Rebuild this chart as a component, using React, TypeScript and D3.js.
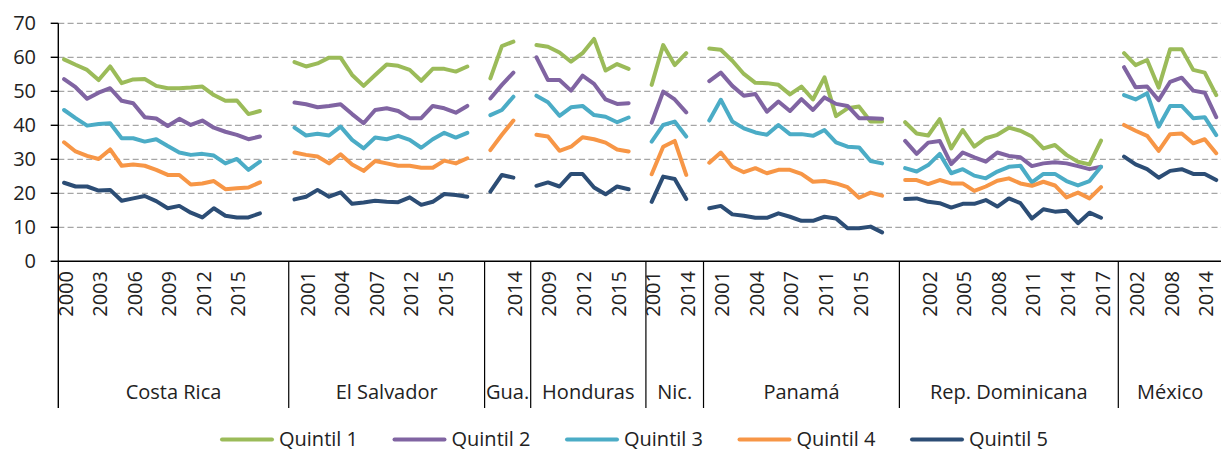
import React from "react";
import * as d3 from "d3";

const countries = ["Costa Rica", "El Salvador", "Gua.", "Honduras", "Nic.", "Panamá", "Rep. Dominicana", "México"];

const countryYears: string[][] = [
  ["2000","2001","2002","2003","2004","2005","2006","2007","2008","2009","2010","2011","2012","2013","2014","2015","2016","2017","",""],
  ["2000","2001","2002","2003","2004","2005","2006","2007","2009","2010","2012","2013","2014","2015","2016","2017",""],
  ["2000","2006","2014",""],
  ["2008","2009","2010","2011","2012","2013","2014","2015","2016",""],
  ["2001","2005","2009","2014",""],
  ["2000","2001","2002","2003","2004","2005","2006","2007","2008","2009","2011","2012","2013","2015","2016","2017",""],
  ["2000","2001","2002","2003","2004","2005","2006","2007","2008","2009","2010","2011","2012","2013","2014","2015","2016","2017",""],
  ["2000","2002","2004","2006","2008","2010","2012","2014","2016"],
];

const seriesNames = ["Quintil 1", "Quintil 2", "Quintil 3", "Quintil 4", "Quintil 5"];
const seriesColors = ["#9BBB59", "#8064A2", "#4BACC6", "#F79646", "#2C4D75"];

const N = null;

const quintil1 = [
  59.4, 57.8, 56.3, 53.3, 57.3, 52.4, 53.5, 53.6, 51.6, 50.9, 50.9, 51.1, 51.4, 48.9, 47.2, 47.3, 43.3, 44.2, N, N,
  58.6, 57.3, 58.2, 59.9, 59.9, 54.8, 51.6, 54.8, 57.9, 57.5, 56.3, 53.1, 56.6, 56.6, 55.8, 57.3, N,
  53.8, 63.3, 64.6, N,
  63.6, 63.1, 61.4, 58.7, 61.2, 65.4, 56.1, 58.0, 56.6, N,
  51.9, 63.6, 57.7, 61.2, N,
  62.6, 62.2, 59.0, 55.1, 52.5, 52.4, 51.9, 49.1, 51.4, 47.6, 54.1, 42.7, 45.0, 45.5, 41.1, 41.1, N,
  40.9, 37.6, 37.0, 41.8, 33.2, 38.6, 33.7, 36.2, 37.2, 39.3, 38.4, 36.7, 33.2, 34.2, 31.3, 29.3, 28.5, 35.5, N,
  61.2, 57.7, 59.2, 51.1, 62.4, 62.4, 56.3, 55.5, 48.9,
];

const quintil2 = [
  53.6, 51.2, 47.8, 49.6, 50.9, 47.2, 46.5, 42.4, 42.0, 39.8, 41.9, 40.1, 41.4, 39.3, 38.1, 37.2, 35.9, 36.7, N, N,
  46.7, 46.2, 45.3, 45.7, 46.2, 43.3, 40.6, 44.5, 45.0, 44.2, 42.1, 42.1, 45.7, 45.0, 43.7, 45.7, N,
  47.9, 51.9, 55.5, N,
  60.0, 53.3, 53.3, 50.2, 54.6, 52.2, 47.6, 46.3, 46.5, N,
  40.8, 49.9, 47.6, 43.8, N,
  53.0, 55.5, 51.6, 48.7, 49.2, 44.0, 47.0, 44.2, 47.7, 44.5, 48.2, 46.3, 45.7, 42.1, 42.1, 41.9, N,
  35.4, 31.6, 34.9, 35.4, 28.6, 32.0, 30.6, 29.3, 32.0, 31.0, 30.6, 28.0, 28.8, 29.1, 28.8, 28.0, 27.1, 27.8, N,
  57.1, 51.2, 51.4, 47.4, 52.8, 54.0, 50.2, 49.6, 42.4,
];

const quintil3 = [
  44.5, 42.1, 39.9, 40.4, 40.6, 36.2, 36.2, 35.2, 35.9, 33.9, 32.0, 31.3, 31.6, 31.1, 28.8, 30.1, 26.9, 29.3, N, N,
  39.3, 37.0, 37.5, 37.0, 39.6, 35.7, 33.2, 36.4, 35.9, 36.9, 35.7, 33.4, 35.9, 37.8, 36.4, 37.8, N,
  43.0, 44.5, 48.4, N,
  48.7, 46.8, 42.8, 45.3, 45.7, 43.0, 42.5, 40.9, 42.3, N,
  35.2, 40.1, 41.1, 36.7, N,
  41.4, 47.5, 41.1, 39.1, 37.9, 37.2, 40.1, 37.4, 37.4, 36.9, 38.6, 35.0, 33.7, 33.5, 29.5, 28.8, N,
  27.4, 26.4, 28.3, 31.6, 25.9, 27.1, 25.2, 24.4, 26.4, 27.8, 28.1, 23.2, 25.7, 25.7, 23.6, 22.3, 23.6, 27.8, N,
  48.9, 47.6, 49.4, 39.6, 45.7, 45.7, 42.1, 42.4, 37.1,
];

const quintil4 = [
  35.0, 32.3, 31.0, 30.1, 32.9, 28.1, 28.5, 28.1, 26.9, 25.4, 25.4, 22.6, 22.9, 23.6, 21.2, 21.5, 21.7, 23.2, N, N,
  32.0, 31.3, 30.8, 28.8, 31.5, 28.5, 26.6, 29.5, 28.8, 28.1, 28.1, 27.5, 27.5, 29.6, 28.8, 30.3, N,
  32.7, 37.2, 41.4, N,
  37.2, 36.7, 32.5, 33.7, 36.5, 35.9, 34.9, 32.9, 32.3, N,
  25.6, 33.7, 35.4, 25.4, N,
  29.0, 32.0, 27.8, 26.2, 27.4, 25.9, 26.9, 26.9, 25.7, 23.4, 23.6, 22.9, 21.8, 18.7, 20.2, 19.3, N,
  23.9, 23.9, 22.7, 23.9, 22.9, 22.9, 20.7, 22.0, 23.7, 24.4, 22.9, 22.2, 23.4, 22.3, 18.8, 20.2, 18.5, 21.8, N,
  40.1, 38.4, 36.9, 32.5, 37.4, 37.6, 34.7, 35.9, 31.8,
];

const quintil5 = [
  23.1, 22.0, 22.0, 20.8, 21.0, 17.8, 18.5, 19.2, 17.7, 15.6, 16.3, 14.3, 12.9, 15.6, 13.4, 12.9, 12.9, 14.1, N, N,
  18.2, 19.0, 21.0, 19.0, 20.3, 16.9, 17.3, 17.8, 17.5, 17.4, 18.8, 16.6, 17.5, 19.8, 19.5, 19.0, N,
  20.5, 25.4, 24.6, N,
  22.2, 23.2, 22.0, 25.7, 25.7, 21.7, 19.7, 22.0, 21.2, N,
  17.5, 24.9, 24.2, 18.3, N,
  15.6, 16.3, 13.8, 13.4, 12.8, 12.8, 14.1, 13.1, 11.9, 11.9, 13.1, 12.6, 9.7, 9.7, 10.2, 8.5, N,
  18.3, 18.5, 17.5, 17.1, 15.8, 16.9, 16.9, 18.0, 16.1, 18.5, 17.1, 12.6, 15.3, 14.6, 14.9, 11.2, 14.3, 12.8, N,
  30.8, 28.5, 27.1, 24.6, 26.6, 27.1, 25.7, 25.7, 23.9,
];

const yTicks = [0, 10, 20, 30, 40, 50, 60, 70];

const FONT = "'Open Sans', 'Noto Sans', sans-serif";

export default function App() {
  const W = 1221;
  const H = 452;
  const left = 58.3;
  const right = 1222;
  const top = 23.3;
  const bottom = 261.3;
  const sepBottom = 408;

  const years = countryYears.flat();
  const idx = years.map((_, i) => i);
  const x = d3.scaleBand<number>().domain(idx).range([left, right]).padding(0);
  const y = d3.scaleLinear().domain([0, 70]).range([bottom, top]);
  const cx = (i: number) => (x(i) as number) + x.bandwidth() / 2;

  const groups: { name: string; start: number; end: number }[] = [];
  let acc = 0;
  countryYears.forEach((ys, k) => {
    groups.push({ name: countries[k], start: acc, end: acc + ys.length });
    acc += ys.length;
  });

  const series = [quintil1, quintil2, quintil3, quintil4, quintil5];
  const line = d3
    .line<number | null>()
    .defined((d) => d != null)
    .x((_, i) => cx(i))
    .y((d) => y(d as number));

  const legendX0 = 222;
  const legendStep = 172.5;
  const legendY = 439.5;

  return (
    <svg
      width={W}
      height={H}
      style={{ position: "absolute", left: 0, top: 0, background: "#fff" }}
      fontFamily={FONT}
    >
      <rect x={0} y={0} width={W} height={H} fill="#fff" />
      {yTicks
        .filter((t) => t > 0)
        .map((t) => (
          <line
            key={"g" + t}
            x1={left}
            x2={right}
            y1={y(t)}
            y2={y(t)}
            stroke="#A6A6A6"
            strokeWidth={1.3}
            strokeDasharray="6,3.3"
          />
        ))}
      <line x1={left} x2={left} y1={top} y2={sepBottom} stroke="#000" strokeWidth={1.4} />
      {yTicks.map((t) => (
        <g key={"t" + t}>
          <line x1={left - 7.6} x2={left} y1={y(t)} y2={y(t)} stroke="#000" strokeWidth={1.4} />
          <text x={36} y={y(t)} dy="0.35em" textAnchor="end" fontSize={20} fill="#222">
            {t}
          </text>
        </g>
      ))}
      <line x1={left} x2={right} y1={bottom} y2={bottom} stroke="#000" strokeWidth={1.4} />
      {groups.slice(1).map((g) => (
        <line
          key={"s" + g.name}
          x1={x(g.start) as number}
          x2={x(g.start) as number}
          y1={bottom}
          y2={sepBottom}
          stroke="#000"
          strokeWidth={1.2}
        />
      ))}
      {years.map((yr, i) =>
        i % 3 === 0 && yr !== "" ? (
          <text
            key={"yl" + i}
            transform={`translate(${cx(i) + 1.5},${271}) rotate(-90)`}
            dy="0.35em"
            textAnchor="end"
            fontSize={20}
            fill="#222"
          >
            {yr}
          </text>
        ) : null
      )}
      {groups.map((g) => (
        <text
          key={"c" + g.name}
          x={((x(g.start) as number) + (g.end >= years.length ? right : (x(g.end) as number))) / 2}
          y={399}
          textAnchor="middle"
          fontSize={20}
          fill="#222"
        >
          {g.name}
        </text>
      ))}
      {series.map((s, k) => (
        <path
          key={"p" + k}
          d={line(s) || ""}
          fill="none"
          stroke={seriesColors[k]}
          strokeWidth={4}
          strokeLinejoin="round"
          strokeLinecap="round"
        />
      ))}
      {seriesNames.map((n, k) => {
        const lx = legendX0 + k * legendStep;
        return (
          <g key={"l" + k}>
            <line x1={lx} x2={lx + 50} y1={legendY} y2={legendY} stroke={seriesColors[k]} strokeWidth={4} strokeLinecap="round" />
            <text x={lx + 57} y={legendY} dy="0.3em" fontSize={20} fill="#222">
              {n}
            </text>
          </g>
        );
      })}
    </svg>
  );
}
